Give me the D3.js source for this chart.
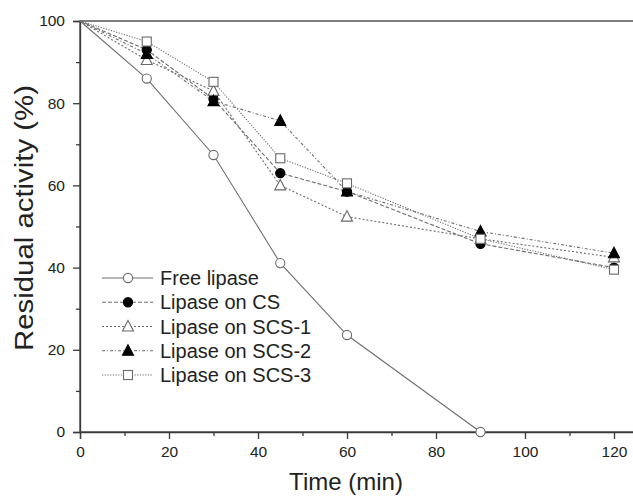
<!DOCTYPE html>
<html>
<head>
<meta charset="utf-8">
<script src="https://cdn.jsdelivr.net/npm/d3@7"></script>
<style>
  html, body { margin: 0; padding: 0; background: #fff; overflow: hidden; }
  svg { display: block; font-family: "Liberation Sans", Arial, sans-serif; }
</style>
</head>
<body>
<svg id="chart" width="633" height="497"></svg>
<script>
// Sampling times (min)
const times = [0, 15, 30, 45, 60, 90, 120];
const freeTimes = [0, 15, 30, 45, 60, 90];

// Residual activity (%) per preparation
const freeLipase   = [100, 86, 67.4, 41.1, 23.6, 0];
const lipaseCS     = [100, 93, 81, 63, 58.5, 45.8, 40];
const lipaseSCS1   = [100, 90.5, 83, 60, 52.4, 47, 42.5];
const lipaseSCS2   = [100, 92, 80.5, 75.7, 58.5, 48.8, 43.5];
const lipaseSCS3   = [100, 95, 85.2, 66.6, 60.5, 47, 39.5];

const seriesNames = ["Free lipase", "Lipase on CS", "Lipase on SCS-1", "Lipase on SCS-2", "Lipase on SCS-3"];

const xTicks = [0, 20, 40, 60, 80, 100, 120];
const yTicks = [0, 20, 40, 60, 80, 100];

const series = [
  { name: seriesNames[0], t: freeTimes, v: freeLipase, symbol: "circle",   filled: false, dash: null },
  { name: seriesNames[1], t: times,     v: lipaseCS,   symbol: "circle",   filled: true,  dash: "4,2" },
  { name: seriesNames[2], t: times,     v: lipaseSCS1, symbol: "triangle", filled: false, dash: "2,2" },
  { name: seriesNames[3], t: times,     v: lipaseSCS2, symbol: "triangle", filled: true,  dash: "3,2,1,2" },
  { name: seriesNames[4], t: times,     v: lipaseSCS3, symbol: "square",   filled: false, dash: "1.2,1.5" }
];

const svg = d3.select("#chart");
const plotLeft = 80, plotTop = 21, plotBottom = 432;
const pxPerMin = 4.45;

const x = d3.scaleLinear().domain([0, 125]).range([plotLeft, plotLeft + 125 * pxPerMin]);
const y = d3.scaleLinear().domain([0, 100]).range([plotBottom, plotTop]);

const axisColor = "#3a3a3a";
const lineColor = "#6f6f6f";
const textColor = "#222";

// Frame (right edge falls just outside the view)
svg.append("rect")
  .attr("x", x(0)).attr("y", y(100))
  .attr("width", x(125) - x(0)).attr("height", y(0) - y(100))
  .attr("fill", "none").attr("stroke", axisColor).attr("stroke-width", 1.3);

// X axis
svg.append("g").attr("transform", `translate(0,${plotBottom})`)
  .call(d3.axisBottom(x).tickValues(xTicks).tickSize(7).tickPadding(7).tickFormat(d3.format("d")));
svg.append("g").attr("transform", `translate(0,${plotBottom})`)
  .call(d3.axisBottom(x).tickValues(d3.range(10, 121, 20)).tickSize(4).tickFormat(""))
  .select(".domain").remove();

// Y axis
svg.append("g").attr("transform", `translate(${plotLeft},0)`)
  .call(d3.axisLeft(y).tickValues(yTicks).tickSize(7).tickPadding(8).tickFormat(d3.format("d")));
svg.append("g").attr("transform", `translate(${plotLeft},0)`)
  .call(d3.axisLeft(y).tickValues(d3.range(10, 100, 20)).tickSize(4).tickFormat(""))
  .select(".domain").remove();

svg.selectAll(".tick line").attr("stroke", axisColor).attr("stroke-width", 1.3);
svg.selectAll(".domain").attr("stroke", axisColor).attr("stroke-width", 1.3);
svg.selectAll(".tick text").attr("font-size", 15.5).attr("fill", textColor)
  .attr("font-family", "'Liberation Sans', Arial, sans-serif");

// Axis titles
svg.append("text")
  .attr("x", 346).attr("y", 490)
  .attr("text-anchor", "middle").attr("font-size", 24).attr("fill", textColor)
  .text("Time (min)");
svg.append("text")
  .attr("transform", `translate(33,218) rotate(-90)`)
  .attr("text-anchor", "middle").attr("font-size", 26).attr("fill", textColor)
  .attr("textLength", 266).attr("lengthAdjust", "spacingAndGlyphs")
  .text("Residual activity (%)");

// Marker drawing
function drawMarker(g, s, cx, cy) {
  const fill = s.filled ? "#000" : "#fff";
  const stroke = s.filled ? "#000" : "#6a6a6a";
  if (s.symbol === "circle") {
    g.append("circle").attr("cx", cx).attr("cy", cy).attr("r", 4.6)
      .attr("fill", fill).attr("stroke", stroke).attr("stroke-width", 1.1);
  } else if (s.symbol === "triangle") {
    const h = 10, w = 11;
    g.append("path")
      .attr("d", `M${cx},${cy - h * 0.6}L${cx + w / 2},${cy + h * 0.45}L${cx - w / 2},${cy + h * 0.45}Z`)
      .attr("fill", fill).attr("stroke", stroke).attr("stroke-width", 1.1);
  } else {
    g.append("rect").attr("x", cx - 4.5).attr("y", cy - 4.5).attr("width", 9).attr("height", 9)
      .attr("fill", fill).attr("stroke", stroke).attr("stroke-width", 1.1);
  }
}

const line = d3.line().x(d => x(d[0])).y(d => y(d[1]));

// Lines first, then markers on top
series.forEach(s => {
  const pts = s.t.map((t, i) => [t, s.v[i]]);
  svg.append("path").datum(pts)
    .attr("d", line).attr("fill", "none")
    .attr("stroke", lineColor).attr("stroke-width", 1.1)
    .attr("stroke-dasharray", s.dash);
});
series.forEach(s => {
  const g = svg.append("g");
  s.t.forEach((t, i) => {
    if (t === 0) return;
    drawMarker(g, s, x(t), y(s.v[i]));
  });
});

// Legend
const legendTop = 278, legendStep = 24.25;
series.forEach((s, i) => {
  const ly = legendTop + i * legendStep;
  const g = svg.append("g");
  g.append("line").attr("x1", 102).attr("x2", 153).attr("y1", ly).attr("y2", ly)
    .attr("stroke", lineColor).attr("stroke-width", 1.1).attr("stroke-dasharray", s.dash);
  drawMarker(g, s, 128, ly);
  g.append("text").attr("x", 160).attr("y", ly).attr("dy", "0.36em")
    .attr("font-size", 20).attr("fill", textColor).text(s.name);
});
</script>
</body>
</html>
